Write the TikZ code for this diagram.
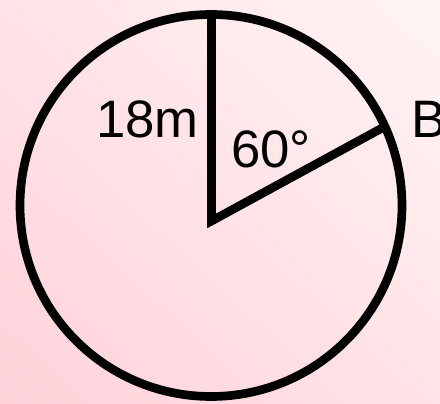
\documentclass[tikz,border=0pt]{standalone}
\usepackage{fontspec}
\setmainfont{Liberation Sans}
\usetikzlibrary{shadings}
\definecolor{pink-low}{HTML}{FFD2DA}
\definecolor{pink-mid}{HTML}{FFE3E7}
\definecolor{pink-high}{HTML}{FFF4F4}

\begin{document}
\begin{tikzpicture}[x=0.03cm, y=-0.03cm,
      every node/.style={font=\fontsize{45}{50}\selectfont, inner sep=0pt}]
    \useasboundingbox (0,0) rectangle (440,404);
    \shade[lower left=pink-low, upper right=pink-high,
      upper left=pink-mid, lower right=pink-mid] (0,0) rectangle (440,404);
    \coordinate (C) at (211,205.5);
    \coordinate (T) at (211.5,14);
    \coordinate (O) at (211.5,221);
    \coordinate (B) at (384,127);
    \draw[line width=0.26cm] (C) circle[radius=191];
    \draw[line width=0.26cm, line join=miter] (T) -- (O) -- (B);
    \node[anchor=base east] (radius) at (199,138) {18m};
    \node[anchor=base west] (angle) at (231,168) {60°};
    \node[anchor=base west] (labelB) at (411,138) {B};
  \end{tikzpicture}
\end{document}
